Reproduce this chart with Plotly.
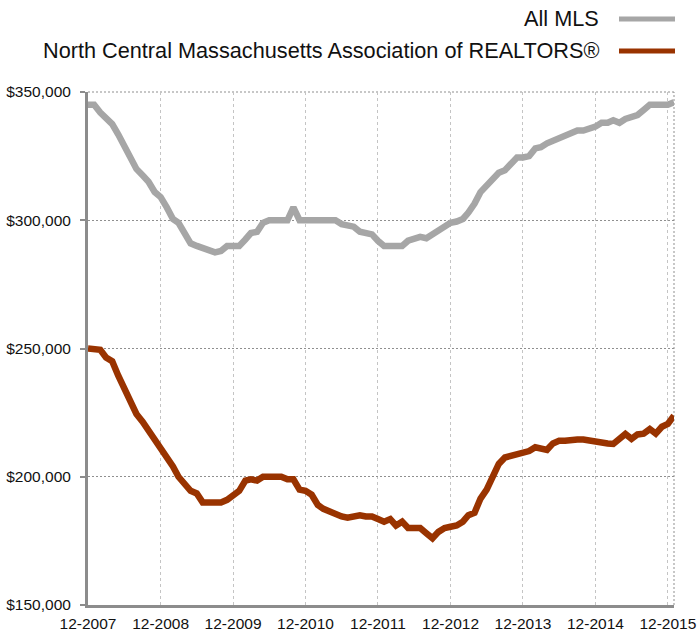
import plotly.graph_objects as go
import pandas as pd

# Monthly x categories: 12-2007 .. 1-2016
months = pd.date_range("2007-12-01", periods=98, freq="MS")

all_mls = [
    345000, 345000, 342000, 339500, 337500, 333500, 329000, 324000, 320000, 317500,
    315000, 311000, 309000, 305000, 300500, 299000, 295000, 291000, 290000, 289000,
    288000, 287500, 288000, 290000, 290000, 290000, 292500, 295000, 295500, 299000,
    300000, 300000, 300000, 300000, 305000, 300000, 300000, 300000, 300000, 300000,
    300000, 300000, 298500, 298000, 297500, 295500, 295000, 294500, 292000, 290000,
    290000, 290000, 290000, 292000, 293000, 293500, 293000, 294500, 296000, 297500,
    299000, 299500, 300500, 303000, 306500, 311000, 313500, 315500, 318500, 319500,
    322000, 324500, 324500, 325000, 328000, 328500, 330000, 331000, 332500, 333500,
    334000, 335000, 335000, 335500, 336500, 338000, 338000, 339000, 338000, 339500,
    340000, 341000, 343000, 345000, 345000, 345000, 345000, 346000,
]

ncmar = [
    250000, 250000, 249500, 246500, 245000, 239500, 234000, 229000, 224500, 221500,
    218000, 215000, 212000, 207500, 204000, 200000, 197000, 194500, 193500, 190000,
    190000, 190000, 190000, 191000, 192500, 194500, 198500, 199000, 198500, 200000,
    200000, 200000, 200000, 199000, 199000, 195000, 194500, 193000, 189000, 187500,
    186500, 185000, 184500, 184000, 184500, 185000, 184500, 184500, 183500, 182500,
    183500, 181000, 182500, 180000, 180000, 180000, 178000, 176000, 178500, 180000,
    180500, 181000, 182500, 185000, 186000, 191500, 195000, 200000, 205000, 207500,
    208000, 209000, 209500, 210000, 211500, 211000, 210500, 213000, 214000, 214000,
    214500, 214500, 214500, 214000, 213800, 213500, 213000, 212800, 215000, 216700,
    214800, 216500, 216800, 218600, 216800, 219500, 220600, 223800,
]

tick_dates = ["2007-12-01", "2008-12-01", "2009-12-01", "2010-12-01", "2011-12-01",
              "2012-12-01", "2013-12-01", "2014-12-01", "2015-12-01"]
tick_labels = ["12-2007", "12-2008", "12-2009", "12-2010", "12-2011",
               "12-2012", "12-2013", "12-2014", "12-2015"]
y_ticks = [150000, 200000, 250000, 300000, 350000]
y_tick_labels = ["$150,000", "$200,000", "$250,000", "$300,000", "$350,000"]

series_names = ["All MLS", "North Central Massachusetts Association of REALTORS®"]
series_colors = ["#a6a6a6", "#993300"]

FONT = "Liberation Sans, Arial, Helvetica, sans-serif"

fig = go.Figure()
fig.add_trace(go.Scatter(x=months, y=all_mls, mode="lines", name=series_names[0],
                         line=dict(color=series_colors[0], width=6.5), showlegend=False))
fig.add_trace(go.Scatter(x=months, y=ncmar, mode="lines", name=series_names[1],
                         line=dict(color=series_colors[1], width=6.5), showlegend=False))

# plot area geometry (pixels) for legend placement in paper coords
L, R, T, B = 88, 674, 92, 605
W, H = R - L, B - T

def px(xp):
    return (xp - L) / W

def py(yp):
    return (B - yp) / H

legend_rows = [(19, 0), (51, 1)]
for ypix, k in legend_rows:
    fig.add_annotation(xref="paper", yref="paper", x=px(601), y=py(ypix),
                       text=series_names[k], showarrow=False, xanchor="right", yanchor="middle",
                       font=dict(family=FONT, size=21.7, color="#111111"))
    fig.add_shape(type="line", xref="paper", yref="paper",
                  x0=px(619), x1=px(675), y0=py(ypix), y1=py(ypix),
                  line=dict(color=series_colors[k], width=5))

# dotted top and right borders
fig.add_shape(type="line", xref="paper", yref="paper", x0=0, x1=1, y0=1, y1=1,
              line=dict(color="#8f8f8f", width=1, dash="2px,2px"), layer="below")
fig.add_shape(type="line", xref="paper", yref="paper", x0=1, x1=1, y0=0, y1=1,
              line=dict(color="#8f8f8f", width=1, dash="2px,2px"), layer="below")

fig.update_layout(
    width=699, height=633,
    margin=dict(l=L, r=699 - R, t=T, b=633 - B),
    paper_bgcolor="white", plot_bgcolor="white",
    font=dict(family=FONT, color="#111111"),
    xaxis=dict(
        type="date", range=["2007-12-01", "2016-01-01"],
        tickmode="array", tickvals=tick_dates, ticktext=tick_labels,
        showgrid=True, gridcolor="#c4c4c4", griddash="3px,3px", gridwidth=1,
        showline=True, linecolor="#8c8c8c", linewidth=3,
        ticks="", tickfont=dict(size=15.5, color="#111111"),
        ticklabelstandoff=2, automargin=False, zeroline=False,
    ),
    yaxis=dict(
        range=[150000, 350000], tickmode="array", tickvals=y_ticks, ticktext=y_tick_labels,
        showgrid=True, gridcolor="#8f8f8f", griddash="2px,2px", gridwidth=1,
        showline=True, linecolor="#8c8c8c", linewidth=3,
        ticks="outside", ticklen=5, tickwidth=2, tickcolor="#8c8c8c",
        tickfont=dict(size=15.5, color="#111111"),
        ticklabelstandoff=6, automargin=False, zeroline=False,
    ),
)

fig.write_html("out.html", config={"displayModeBar": False},
               post_script="document.body.style.margin='0';document.body.style.padding='0';")
